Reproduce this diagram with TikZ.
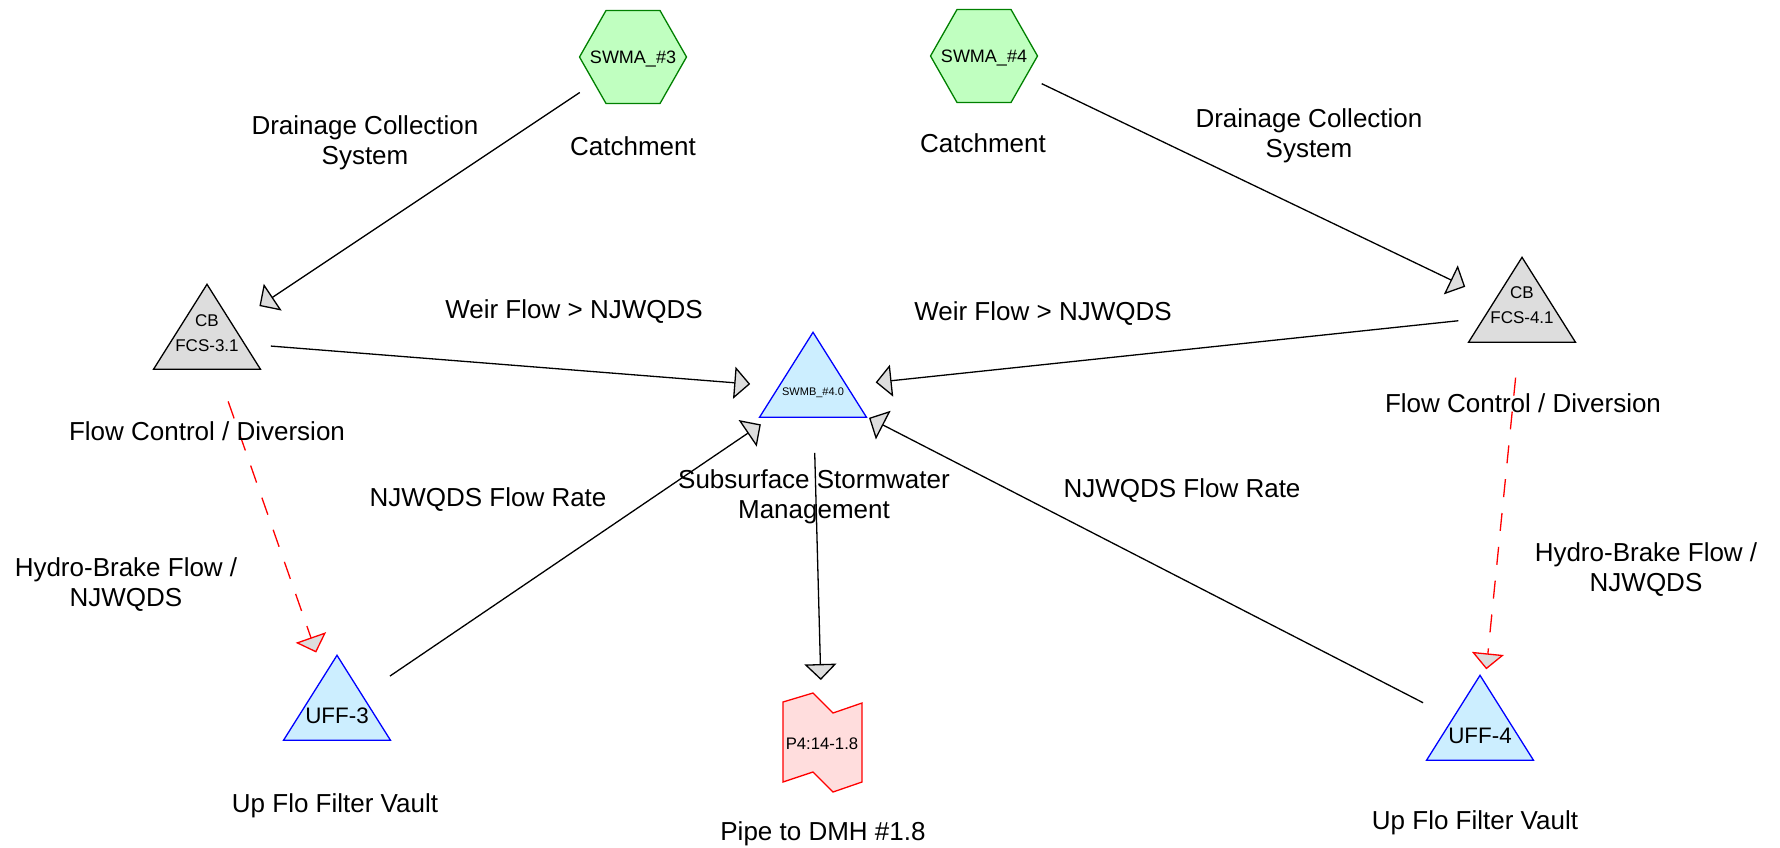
\documentclass[tikz,border=0pt]{standalone}
\usepackage{fontspec}
\setmainfont{Liberation Sans}
\usetikzlibrary{arrows.meta,calc}
\definecolor{hexfill}{HTML}{C0FFC0}
\definecolor{hexline}{HTML}{008000}
\definecolor{cbfill}{HTML}{DDDDDD}
\definecolor{bluefill}{HTML}{CCEEFF}
\definecolor{pinkfill}{HTML}{FFDDDD}
\tikzset{
  edge/.style={draw=black, line width=1.3pt, line join=miter, shorten <=64pt, shorten >=63pt,
    -{Triangle[length=16pt,width=32pt,fill=cbfill]}},
  redge/.style={edge, draw=red, dash pattern=on 18pt off 16pt},
  hexstyle/.style={draw=hexline, fill=hexfill, line width=1.3pt},
  graystyle/.style={draw=black, fill=cbfill, line width=1.3pt},
  bluestyle/.style={draw=blue, fill=bluefill, line width=1.3pt},
  pinkstyle/.style={draw=red, fill=pinkfill, line width=1.3pt},
  pics/hexa/.style={code={\path[hexstyle] (-53.5,0) -- (-27,-46.5) -- (27,-46.5) -- (53.5,0) -- (27,46.5) -- (-27,46.5) -- cycle;}},
  pics/tri/.style={code={\path[#1] (0,-56.7) -- (53.5,28.3) -- (-53.5,28.3) -- cycle;}},
  pics/tape/.style={code={\path[pinkstyle] (-39.5,-41) -- (-9.5,-50) -- (10.5,-30) -- (39.5,-40) -- (39.5,39) -- (10.5,49) -- (-9.5,29) -- (-39.5,39) -- cycle;}},
  lbl/.style={inner sep=0pt, font=\fontsize{26}{30}\selectfont, text height=18.6pt, text depth=0pt},
  mlbl/.style={inner sep=0pt, font=\fontsize{26}{30}\selectfont, align=center},
  ntext/.style={inner sep=0pt, align=center},
}
\begin{document}
\begin{tikzpicture}[x=1pt,y=-1pt]
\useasboundingbox (0,0) rectangle (1780,847);
% node positions (centroids)
\coordinate (s3) at (633,57);
\coordinate (s4) at (984,56);
\coordinate (cb3) at (207,341);
\coordinate (cb4) at (1522,314);
\coordinate (swmb) at (813,389);
\coordinate (uff3) at (337,712);
\coordinate (uff4) at (1480,732);
\coordinate (p4) at (822.5,743);
% shapes
\pic at (s3) {hexa};
\pic at (s4) {hexa};
\pic at (cb3) {tri=graystyle};
\pic at (cb4) {tri=graystyle};
\pic at (swmb) {tri=bluestyle};
\pic at (uff3) {tri=bluestyle};
\pic at (uff4) {tri=bluestyle};
\pic at (p4) {tape};
% node texts
\node[ntext, font=\fontsize{18}{22}\selectfont, text height=12.9pt, text depth=0pt] (s3t) at (633,57) {SWMA\_\#3};
\node[ntext, font=\fontsize{18}{22}\selectfont, text height=12.9pt, text depth=0pt] (s4t) at (984,56) {SWMA\_\#4};
\node[ntext, font=\fontsize{17}{25}\selectfont] (cb3t) at (207,333) {CB\\FCS-3.1};
\node[ntext, font=\fontsize{17}{25}\selectfont] (cb4t) at (1522,305) {CB\\FCS-4.1};
\node[ntext, font=\fontsize{11}{13}\selectfont, text height=7.9pt, text depth=0pt] (swmbt) at (813,392) {SWMB\_\#4.0};
\node[ntext, font=\fontsize{22.4}{26}\selectfont, text height=16pt, text depth=0pt] (uff3t) at (337,715) {UFF-3};
\node[ntext, font=\fontsize{22.4}{26}\selectfont, text height=16pt, text depth=0pt] (uff4t) at (1480,735) {UFF-4};
\node[ntext, font=\fontsize{16.7}{20}\selectfont, text height=12pt, text depth=0pt] (p4t) at (822,743) {P4:14-1.8};
% connectors
\draw[edge] (s3) -- (cb3);
\draw[edge] (s4) -- (cb4);
\draw[edge] (cb3) -- (swmb);
\draw[edge] (cb4) -- (swmb);
\draw[edge] (uff3) -- (swmb);
\draw[edge] (uff4) -- (swmb);
\draw[edge] (swmb) -- (p4);
\draw[redge] (cb3) -- (uff3);
\draw[redge] (cb4) -- (uff4);
% node labels
\node[lbl] (l1) at (633,146) {Catchment};
\node[lbl] (l2) at (983,143) {Catchment};
\node[lbl] (l3) at (207,431) {Flow Control / Diversion};
\node[lbl] (l4) at (1523,403) {Flow Control / Diversion};
\node[mlbl] (l5) at (814,497) {Subsurface Stormwater\\Management};
\node[lbl] (l6) at (335,803) {Up Flo Filter Vault};
\node[lbl] (l7) at (1475,820) {Up Flo Filter Vault};
\node[lbl] (l8) at (823,831) {Pipe to DMH \#1.8};
% edge labels
\node[mlbl] (e1) at (365,143) {Drainage Collection\\System};
\node[mlbl] (e2) at (1309,136) {Drainage Collection\\System};
\node[lbl] (e3) at (574,309) {Weir Flow > NJWQDS};
\node[lbl] (e4) at (1043,311) {Weir Flow > NJWQDS};
\node[lbl] (e5) at (488,497) {NJWQDS Flow Rate};
\node[lbl] (e6) at (1182,488) {NJWQDS Flow Rate};
\node[mlbl] (e7) at (126,585) {Hydro-Brake Flow /\\NJWQDS};
\node[mlbl] (e8) at (1646,570) {Hydro-Brake Flow /\\NJWQDS};
\end{tikzpicture}
\end{document}
